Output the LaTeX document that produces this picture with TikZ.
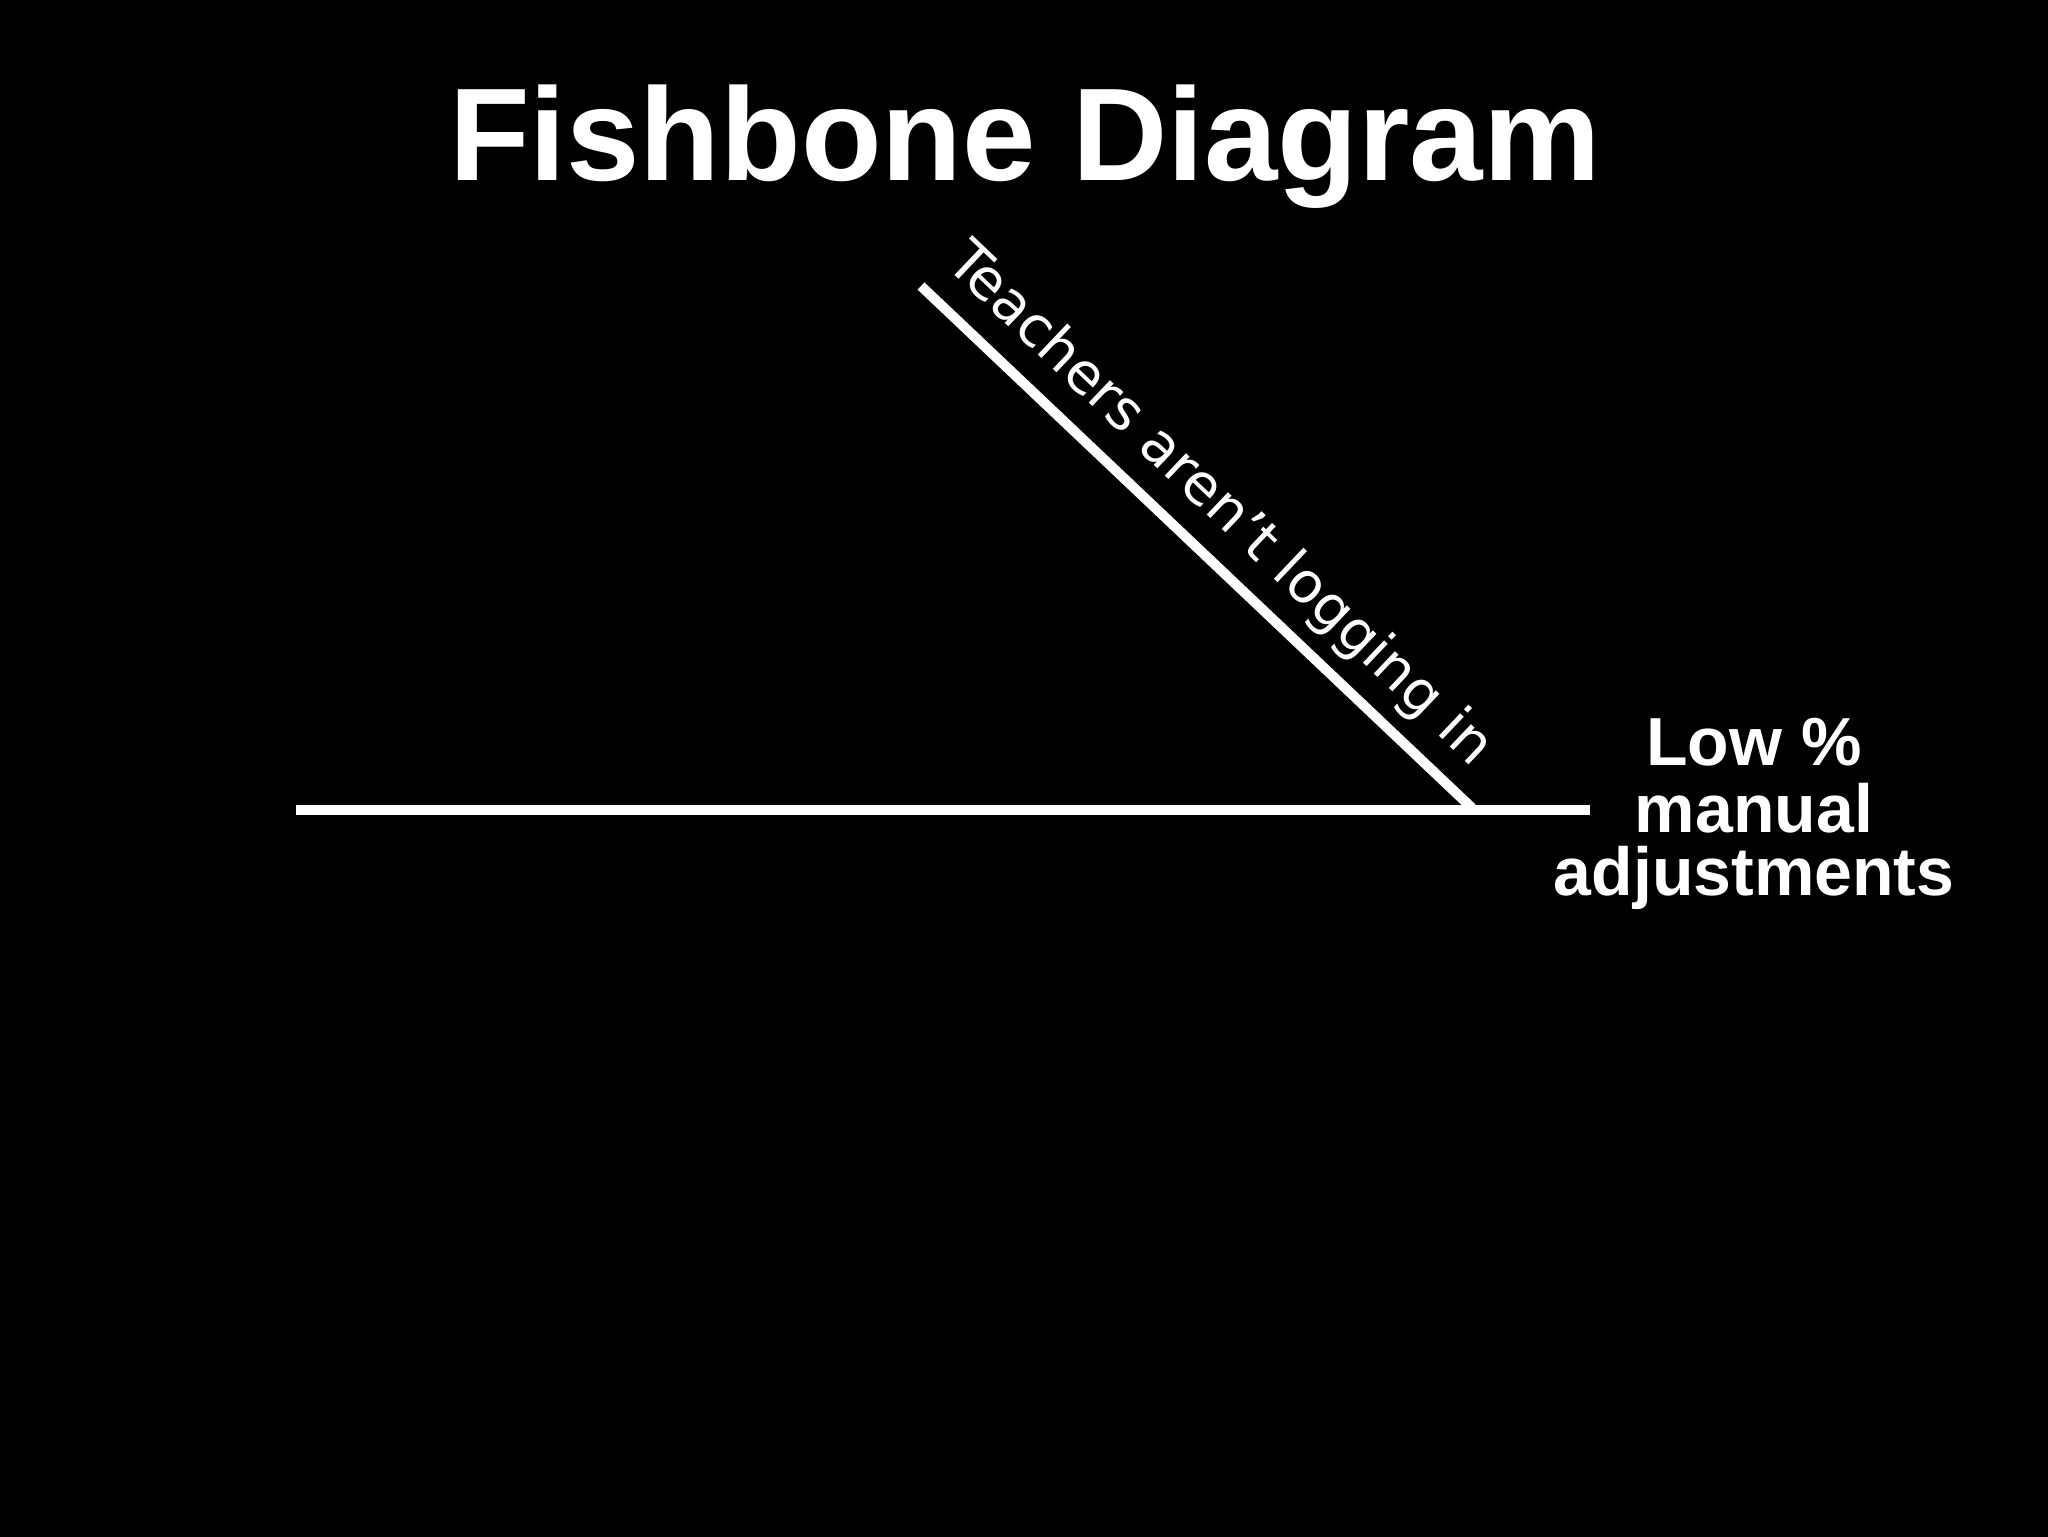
\documentclass[tikz,border=0pt]{standalone}
\usepackage{fontspec}
\setmainfont{Liberation Sans}
\newfontfamily\bonefont{DejaVu Sans}
\usetikzlibrary{calc}
\begin{document}
\begin{tikzpicture}[x=0.5pt, y=0.5pt,
  spine/.style={draw=white, line width=5pt},
  heading/.style={font=\fontsize{66}{78}\selectfont\bfseries, text=white, inner sep=0, anchor=base},
  effect/.style={font=\fontsize{34}{40}\selectfont\bfseries, text=white, inner sep=0, anchor=base},
  cause/.style={font=\bonefont\fontsize{28.2}{32}\selectfont, text=white, inner sep=0, anchor=base west, rotate=-43.56}]
  \useasboundingbox (0,0) rectangle (2048,-1536);
  \fill[black] (-4,4) rectangle (2052,-1540);
  \node[heading] (title) at (1025,-180) {Fishbone Diagram};
  \coordinate (tail) at (296,-810);
  \coordinate (head) at (1590,-810);
  \coordinate (bone) at (921,-286);
  \coordinate (joint) at (1472,-808);
  \draw[spine] (tail) -- (head);
  \draw[spine] (bone) -- (joint);
  \node[cause] (teachers) at ($(bone)+(22.8,21.1)$) {Teachers aren’t logging in};
  \node[effect] (low) at (1754,-765) {Low \%};
  \node[effect] (manual) at (1754,-832) {manual};
  \node[effect] (adjust) at (1754,-895) {adjustments};
\end{tikzpicture}
\end{document}
